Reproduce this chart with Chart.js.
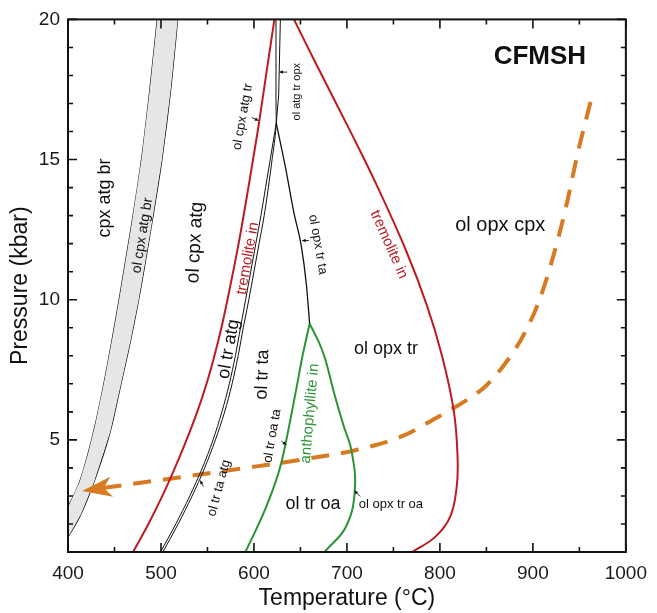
<!DOCTYPE html>
<html>
<head>
<meta charset="utf-8">
<script src="https://cdn.jsdelivr.net/npm/chart.js@4.4.1/dist/chart.umd.min.js"></script>
<style>
  html, body { margin: 0; padding: 0; background: #fff; }
</style>
</head>
<body>
<canvas id="phaseChart" width="657" height="613"></canvas>
<script>
// axis ticks
const tempTicks = [400, 500, 600, 700, 800, 900, 1000];
const pressTicks = [5, 10, 15, 20];

// reaction lines, pairs of [T (°C), P (kbar)]
const brBandUpper = [[400, 2.6], [412.5, 3.5], [421.5, 4.5], [429, 5.5], [438.5, 7], [447, 8.5], [455, 10], [467.5, 12.5], [479, 15], [488, 17.5], [496, 20]];
const brBandLower = [[400, 1.53], [414, 2.36], [428, 3.5], [445.5, 5.3], [457, 7], [467, 8.5], [476, 10], [489, 12.5], [501, 15], [510.5, 17.5], [518, 20]];
const tremoliteLow = [[470, 1], [486.5, 2], [501.5, 3], [515, 4], [527.5, 5], [539, 6], [549, 7], [557.5, 8], [565, 9], [571.5, 10], [583.5, 12], [594, 14], [604, 16], [613, 18], [622, 20]];
const atgOutA = [[499.5, 1], [516, 2], [531, 3], [544.5, 4], [556, 5], [565.5, 6], [573.5, 7], [580, 8], [585.5, 9], [591, 10], [596.5, 11], [602, 12], [607.5, 13], [612.5, 14], [617.5, 15], [622.5, 16], [624, 16.3]];
const atgOutB = [[502, 1], [518.5, 2], [533.5, 3], [547, 4], [558.5, 5], [568.5, 6], [576.5, 7], [583, 8], [588.5, 9], [594.5, 10], [600, 11], [605.5, 12], [611, 13], [615.5, 14], [619.5, 15], [623.3, 16], [624, 16.3]];
const opxInA = [[624, 16.3], [623.6, 17.3], [623.7, 20]];
const opxInB = [[624, 16.3], [626.6, 17.3], [628.4, 20]];
const talcOut = [[624, 16.3], [634, 14.7], [643, 13.1], [651, 11.9], [656.5, 10.5], [659.9, 9.14]];
const anthLow = [[659.9, 9.14], [651.7, 7.91], [645, 6.72], [629, 4.13], [613, 2.6], [590.8, 1]];
const anthHigh = [[659.9, 9.14], [669.8, 8.49], [676.4, 7.91], [685.8, 6.72], [696, 5.55], [705, 4.6], [708.5, 3.2], [699, 1.9], [675.9, 1]];
const tremoliteHigh = [[643, 20], [667, 18.4], [703, 16.05], [731, 14.16], [763, 11.8], [786, 9.8], [802, 8.03], [815, 6.02], [819, 4.37], [818, 3.31], [811, 2.25], [795, 1.54], [770, 1]];
// P-T path, from start to arrow tip
const ptPath = [[962, 17.05], [949, 15.34], [935, 13.22], [919, 11.21], [906, 9.9], [891, 8.8], [873, 7.85], [850, 6.94], [827, 6.38], [793, 5.73], [760, 5.14], [710, 4.64], [654, 4.31], [583, 3.96], [500, 3.57], [415, 3.18]];

const FONT = '"Liberation Sans", Arial, sans-serif';
const RED = '#bd1b22';
const GREEN = '#2b9434';
const ORANGE = '#d77a22';

// field and line labels: text, T, P, rotation (deg)
const fieldLabels = [
    { text: 'CFMSH', t: 907.5, p: 18.66, rot: 0, size: 26, bold: true },
    { text: 'cpx atg br', t: 439.8, p: 13.63, rot: -90, size: 18 },
    { text: 'ol cpx atg br', t: 480, p: 12.29, rot: -81, size: 14 },
    { text: 'ol cpx atg', t: 536.7, p: 12.04, rot: -87, size: 19 },
    { text: 'tremolite in', t: 593.3, p: 11.47, rot: -80, size: 15, color: RED },
    { text: 'ol cpx atg tr', t: 588, p: 16.53, rot: -80, size: 13 },
    { text: 'ol atg tr opx', t: 646.4, p: 17.42, rot: -90, size: 11 },
    { text: 'ol opx tr ta', t: 668.7, p: 11.97, rot: 80, size: 13 },
    { text: 'ol opx cpx', t: 864.9, p: 12.64, rot: 0, size: 20 },
    { text: 'tremolite in', t: 745.1, p: 11.97, rot: 66, size: 15, color: RED },
    { text: 'ol tr atg', t: 572.9, p: 8.24, rot: -80, size: 18 },
    { text: 'ol tr ta', t: 609.2, p: 7.33, rot: -88, size: 18 },
    { text: 'ol tr ta atg', t: 562.5, p: 3.28, rot: -75, size: 13 },
    { text: 'ol tr oa ta', t: 619.8, p: 5.14, rot: -80, size: 13 },
    { text: 'anthophyllite in', t: 660.2, p: 5.94, rot: -85, size: 15, color: GREEN },
    { text: 'ol opx tr', t: 741.9, p: 8.25, rot: 0, size: 18 },
    { text: 'ol tr oa', t: 663.4, p: 2.70, rot: 0, size: 18 },
    { text: 'ol opx tr oa', t: 747.3, p: 2.68, rot: 0, size: 13 }
];

// small pointer arrows: from [T, P] to [T, P]
const pointers = [
    [[597.5, 16.5], [604.9, 16.39]],
    [[635.8, 18.12], [627.3, 18.12]],
    [[659.1, 12.11], [651.7, 12.11]],
    [[545.5, 3.335], [542.3, 3.547]],
    [[629.4, 4.963], [634.7, 4.821]],
    [[714.3, 2.98], [708, 3.19]]
];

const pts = arr => arr.map(([t, p]) => ({ x: t, y: p }));

function lineSet(arr, color, width, extra) {
    return Object.assign({
        data: pts(arr),
        showLine: true,
        borderColor: color,
        borderWidth: width,
        pointRadius: 0,
        cubicInterpolationMode: 'monotone',
        fill: false,
        clip: 0
    }, extra || {});
}

function drawPointer(ctx, x1, y1, x2, y2) {
    const a = Math.atan2(y2 - y1, x2 - x1);
    ctx.beginPath();
    ctx.moveTo(x1, y1);
    ctx.lineTo(x2, y2);
    ctx.stroke();
    ctx.beginPath();
    ctx.moveTo(x2, y2);
    ctx.lineTo(x2 - 4 * Math.cos(a - 0.45), y2 - 4 * Math.sin(a - 0.45));
    ctx.lineTo(x2 - 4 * Math.cos(a + 0.45), y2 - 4 * Math.sin(a + 0.45));
    ctx.closePath();
    ctx.fill();
}

const annotate = {
    id: 'annotate',
    afterDatasetsDraw(chart) {
        const { ctx, chartArea: area, scales: { x, y } } = chart;
        ctx.save();

        // arrow head on P-T path
        const n = ptPath.length;
        const tx = x.getPixelForValue(ptPath[n - 1][0]), ty = y.getPixelForValue(ptPath[n - 1][1]);
        const px = x.getPixelForValue(ptPath[n - 2][0]), py = y.getPixelForValue(ptPath[n - 2][1]);
        const len = Math.hypot(tx - px, ty - py);
        const ux = (tx - px) / len, uy = (ty - py) / len;
        const L = 30, W = 10, notch = 8;
        ctx.fillStyle = ORANGE;
        ctx.beginPath();
        ctx.moveTo(tx, ty);
        ctx.lineTo(tx - ux * L - uy * W, ty - uy * L + ux * W);
        ctx.lineTo(tx - ux * (L - notch), ty - uy * (L - notch));
        ctx.lineTo(tx - ux * L + uy * W, ty - uy * L - ux * W);
        ctx.closePath();
        ctx.fill();

        // labels
        ctx.textAlign = 'center';
        ctx.textBaseline = 'middle';
        fieldLabels.forEach(l => {
            ctx.save();
            ctx.translate(x.getPixelForValue(l.t), y.getPixelForValue(l.p));
            ctx.rotate(l.rot * Math.PI / 180);
            ctx.font = (l.bold ? 'bold ' : '') + l.size + 'px ' + FONT;
            ctx.fillStyle = l.color || '#111';
            ctx.fillText(l.text, 0, 0);
            ctx.restore();
        });

        // pointers
        ctx.strokeStyle = '#111';
        ctx.fillStyle = '#111';
        ctx.lineWidth = 0.9;
        pointers.forEach(([a, b]) => {
            drawPointer(ctx, x.getPixelForValue(a[0]), y.getPixelForValue(a[1]),
                x.getPixelForValue(b[0]), y.getPixelForValue(b[1]));
        });

        // frame
        ctx.strokeStyle = '#111';
        ctx.lineWidth = 2;
        ctx.strokeRect(area.left, area.top, area.right - area.left, area.bottom - area.top);

        // inward ticks on all four sides
        ctx.lineWidth = 1.6;
        ctx.beginPath();
        for (let t = 400; t <= 1000; t += 50) {
            const px2 = x.getPixelForValue(t);
            const tl = t % 100 === 0 ? 9 : 5;
            ctx.moveTo(px2, area.bottom); ctx.lineTo(px2, area.bottom - tl);
            ctx.moveTo(px2, area.top); ctx.lineTo(px2, area.top + tl);
        }
        for (let p = 2; p <= 20; p += 1) {
            const py2 = y.getPixelForValue(p);
            const tl = p % 5 === 0 ? 9 : 5;
            ctx.moveTo(area.left, py2); ctx.lineTo(area.left + tl, py2);
            ctx.moveTo(area.right, py2); ctx.lineTo(area.right - tl, py2);
        }
        ctx.stroke();
        ctx.restore();
    }
};

const ctx = document.getElementById('phaseChart').getContext('2d');
const phaseChart = new Chart(ctx, {
    type: 'scatter',
    data: {
        datasets: [
            lineSet(brBandUpper.concat(brBandLower.slice().reverse()), 'rgba(0,0,0,0)', 0,
                { fill: 'shape', backgroundColor: '#e6e6e6', cubicInterpolationMode: 'default', tension: 0 }),
            lineSet(brBandUpper, '#111', 1.2),
            lineSet(brBandLower, '#111', 1.2),
            lineSet(tremoliteLow, RED, 2),
            lineSet(atgOutA, '#111', 1),
            lineSet(atgOutB, '#111', 1),
            lineSet(opxInA, '#111', 1, { cubicInterpolationMode: 'default', tension: 0 }),
            lineSet(opxInB, '#111', 1, { cubicInterpolationMode: 'default', tension: 0 }),
            lineSet(talcOut, '#111', 1.3),
            lineSet(anthLow, GREEN, 2),
            lineSet(anthHigh, GREEN, 2, { cubicInterpolationMode: 'default', tension: 0.4 }),
            lineSet(tremoliteHigh, RED, 2, { cubicInterpolationMode: 'default', tension: 0.4 }),
            lineSet(ptPath, ORANGE, 4, { borderDash: [18, 12], borderCapStyle: 'butt' })
        ]
    },
    options: {
        responsive: false,
        animation: false,
        devicePixelRatio: 1,
        layout: { padding: { left: 0, right: 24, top: 15, bottom: 0 } },
        plugins: {
            legend: { display: false },
            tooltip: { enabled: false }
        },
        scales: {
            x: {
                type: 'linear',
                min: 400,
                max: 1000,
                afterFit(scale) { scale.height = 61; },
                afterBuildTicks(scale) { scale.ticks = tempTicks.map(v => ({ value: v })); },
                grid: { display: false, drawTicks: false },
                border: { display: false },
                ticks: { font: { family: FONT, size: 19 }, color: '#1a1a1a', padding: 10, maxRotation: 0, autoSkip: false, callback: v => String(v) },
                title: { display: true, text: 'Temperature (°C)', font: { family: FONT, size: 23 }, color: '#111', padding: { top: 0, bottom: 1 } }
            },
            y: {
                type: 'linear',
                min: 1,
                max: 20,
                afterFit(scale) { scale.width = 68; },
                afterBuildTicks(scale) { scale.ticks = pressTicks.map(v => ({ value: v })); },
                grid: { display: false, drawTicks: false },
                border: { display: false },
                ticks: { font: { family: FONT, size: 19 }, color: '#1a1a1a', padding: 8, callback: v => String(v) },
                title: { display: true, text: 'Pressure (kbar)', font: { family: FONT, size: 23 }, color: '#111', padding: { top: 7, bottom: 0 } }
            }
        }
    },
    plugins: [annotate]
});
</script>
</body>
</html>
